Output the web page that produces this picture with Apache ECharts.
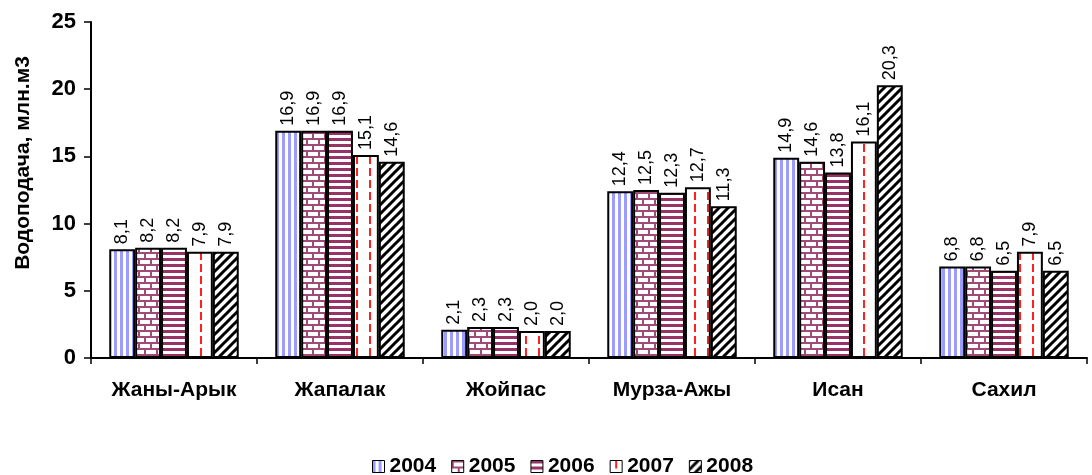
<!DOCTYPE html>
<html>
<head>
<meta charset="utf-8">
<script src="https://cdn.jsdelivr.net/npm/echarts@6/dist/echarts.min.js"></script>
<style>
  html, body { margin: 0; padding: 0; background: #fff; }
  #chart { width: 1092px; height: 475px; }
</style>
</head>
<body>
<div id="chart"></div>
<script>
var categories = ['Жаны-Арык', 'Жапалак', 'Жойпас', 'Мурза-Ажы', 'Исан', 'Сахил'];
var years = ['2004', '2005', '2006', '2007', '2008'];
var v2004 = [8.1, 16.9, 2.1, 12.4, 14.9, 6.8];
var v2005 = [8.2, 16.9, 2.3, 12.5, 14.6, 6.8];
var v2006 = [8.2, 16.9, 2.3, 12.3, 13.8, 6.5];
var v2007 = [7.9, 15.1, 2.0, 12.7, 16.1, 7.9];
var v2008 = [7.9, 14.6, 2.0, 11.3, 20.3, 6.5];
var values = [v2004, v2005, v2006, v2007, v2008];

// заливки штриховкой через canvas
function makeCanvas(w, h, draw) {
  var c = document.createElement('canvas');
  c.width = w; c.height = h;
  var ctx = c.getContext('2d');
  ctx.fillStyle = '#fff';
  ctx.fillRect(0, 0, w, h);
  draw(ctx);
  return c;
}
var patterns = [
  // 2004 вертикальные голубые полосы
  makeCanvas(6, 6, function (ctx) {
    ctx.fillStyle = '#9c9cff';
    ctx.fillRect(0, 0, 3, 6);
  }),
  // 2005 кирпичи
  makeCanvas(12, 12, function (ctx) {
    ctx.fillStyle = '#a04a76';
    ctx.fillRect(0, 0, 12, 2);
    ctx.fillRect(0, 6, 12, 2);
    ctx.fillRect(0, 2, 2, 4);
    ctx.fillRect(6, 8, 2, 4);
  }),
  // 2006 горизонтальные полосы
  makeCanvas(6, 6, function (ctx) {
    ctx.fillStyle = '#993366';
    ctx.fillRect(0, 0, 6, 3);
  }),
  // 2007 красный пунктир
  makeCanvas(13, 12, function (ctx) {
    ctx.fillStyle = '#ff2020';
    ctx.fillRect(5, 0, 2, 8);
  }),
  // 2008 диагональ
  makeCanvas(9, 9, function (ctx) {
    ctx.strokeStyle = '#000';
    ctx.lineWidth = 3;
    ctx.beginPath();
    ctx.moveTo(-2, 11); ctx.lineTo(11, -2);
    ctx.moveTo(-2, 2); ctx.lineTo(2, -2);
    ctx.moveTo(7, 11); ctx.lineTo(11, 7);
    ctx.stroke();
  })
];

var myChart = echarts.init(document.getElementById('chart'));
var font = 'Liberation Sans, Arial, sans-serif';

var series = [];
for (var i = 0; i < years.length; i++) {
  series.push({
    name: years[i],
    type: 'bar',
    data: values[i],
    barGap: '0%',
    barCategoryGap: '22%',
    itemStyle: {
      color: { image: patterns[i], repeat: 'repeat' },
      borderColor: '#000',
      borderWidth: 2
    },
    label: {
      show: true,
      position: 'top',
      rotate: 90,
      align: 'left',
      verticalAlign: 'middle',
      distance: 5,
      color: '#000',
      fontFamily: font,
      fontSize: 18,
      formatter: function (p) { return p.value.toFixed(1).replace('.', ','); }
    }
  });
}

var option = {
  animation: false,
  textStyle: { fontFamily: font },
  grid: { left: 91, right: 5, top: 22, bottom: 117 },
  legend: {
    top: 451,
    left: 367,
    itemWidth: 12,
    itemHeight: 12,
    itemGap: 15,
    icon: 'rect',
    itemStyle: { borderColor: '#000', borderWidth: 1 },
    textStyle: { fontFamily: font, fontSize: 21, fontWeight: 'bold', color: '#000' },
    data: years
  },
  xAxis: {
    type: 'category',
    data: categories,
    axisLine: { lineStyle: { color: '#000', width: 2 } },
    axisTick: { show: true, length: 6, lineStyle: { color: '#000', width: 1.5 } },
    axisLabel: { color: '#000', fontSize: 21, fontWeight: 'bold', margin: 22, fontFamily: font }
  },
  yAxis: {
    type: 'value',
    min: 0,
    max: 25,
    interval: 5,
    name: 'Водоподача, млн.м3',
    nameLocation: 'middle',
    nameGap: 57,
    nameTextStyle: { color: '#000', fontSize: 21, fontWeight: 'bold', fontFamily: font, padding: [0, 0, 0, 54] },
    axisLine: { show: true, lineStyle: { color: '#000', width: 2 } },
    axisTick: { show: true, length: 7, lineStyle: { color: '#000', width: 1.5 } },
    axisLabel: { color: '#000', fontSize: 22, fontWeight: 'bold', margin: 15, fontFamily: font },
    splitLine: { show: false }
  },
  series: series
};

myChart.setOption(option);
window.addEventListener('resize', function () { myChart.resize(); });
</script>
</body>
</html>
